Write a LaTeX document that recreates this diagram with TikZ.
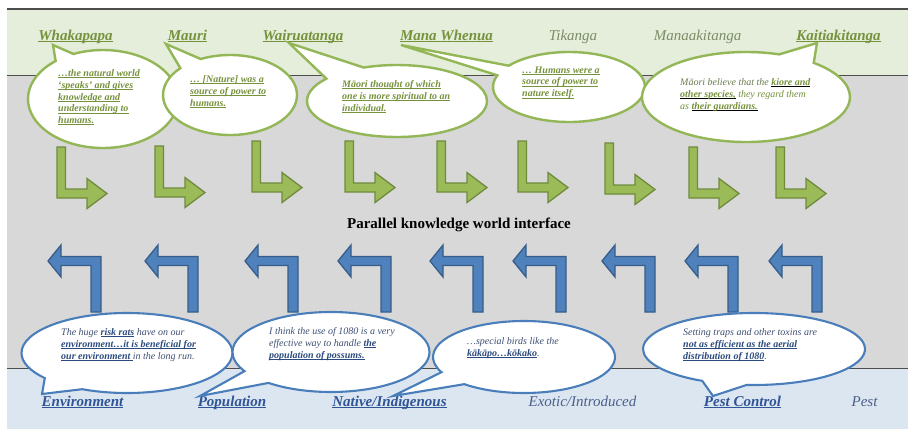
\documentclass[tikz,border=0pt]{standalone}
\usepackage{fontspec}
\setmainfont{Liberation Serif}
\usetikzlibrary{shapes.callouts}

\definecolor{bandGreen}{HTML}{E4EEDA}
\definecolor{bandGray}{HTML}{D8D8D8}
\definecolor{bandBlue}{HTML}{DCE6F1}
\definecolor{ruleGray}{HTML}{4D4D4D}
\definecolor{leafLine}{HTML}{93B657}
\definecolor{leafFill}{HTML}{9BBB59}
\definecolor{leafEdge}{HTML}{6F8A3C}
\definecolor{seaLine}{HTML}{4A7EBB}
\definecolor{seaFill}{HTML}{4F81BD}
\definecolor{seaEdge}{HTML}{385D8A}
\definecolor{leafText}{HTML}{76923C}
\definecolor{leafSoft}{HTML}{7D8B66}
\definecolor{leafPlain}{HTML}{6A7A50}
\definecolor{seaText}{HTML}{2F5597}
\definecolor{seaSoft}{HTML}{4B5F8A}
\definecolor{seaPlain}{HTML}{3E4F73}
\definecolor{seaBold}{HTML}{2B4A7D}

% underline drawn at a fixed depth below the baseline
\newbox\ulxbox
\newcommand\ulx[1]{\setbox\ulxbox=\hbox{#1}\rlap{\rule[-0.16em]{\wd\ulxbox}{0.075em}}\box\ulxbox}
\newcommand\leafbold[1]{\ulx{\color{leafText}\bfseries #1}}
\newcommand\seabold[1]{{\color{seaBold}\ulx{\bfseries #1}}}

\tikzset{
  hdrTopB/.style={anchor=base, inner sep=0pt, text=leafText, font=\fontsize{15}{18}\selectfont\bfseries\itshape},
  hdrTopR/.style={anchor=base, inner sep=0pt, text=leafSoft, font=\fontsize{15}{18}\selectfont\itshape},
  hdrBotB/.style={anchor=base, inner sep=0pt, text=seaText, font=\fontsize{15}{18}\selectfont\bfseries\itshape},
  hdrBotR/.style={anchor=base, inner sep=0pt, text=seaSoft, font=\fontsize{15}{18}\selectfont\itshape},
  leafBubble/.style={ellipse callout, draw=leafLine, line width=2.4pt, fill=white, inner sep=0pt},
  seaBubble/.style={ellipse callout, draw=seaLine, line width=2.1pt, fill=white, inner sep=0pt},
  note/.style={anchor=north west, inner sep=0pt, align=left, font=\fontsize{10}{11.8}\selectfont\itshape},
  leafNote/.style={note, text=leafText, font=\fontsize{10}{11.8}\selectfont\bfseries\itshape},
  leafNoteR/.style={note, text=leafPlain},
  seaNote/.style={note, text=seaPlain},
  leafArrow/.style={fill=leafFill, draw=leafEdge, line width=1.3pt, line join=miter},
  seaArrow/.style={fill=seaFill, draw=seaEdge, line width=1.3pt, line join=miter},
  % bent block arrow: down, then right
  turnDown/.pic={
    \draw[leafArrow] (0,0) -- (8.5,0) -- (8.5,42) -- (30,42) -- (30,31.5) -- (50,46.5)
      -- (30,61.5) -- (30,51) -- (0,51) -- cycle;
  },
  % bent block arrow: up, then left (origin at the tip)
  turnUp/.pic={
    \draw[seaArrow] (0,0) -- (13,-16) -- (13,-4.5) -- (53,-4.5) -- (53,51) -- (43,51)
      -- (43,4.5) -- (13,4.5) -- (13,16) -- cycle;
  },
}

\begin{document}
\begin{tikzpicture}[x=1pt, y=-1pt]
\useasboundingbox (0,0) rectangle (908,429);

% background bands
\fill[bandGreen] (7,9) rectangle (908,75);
\fill[bandGray] (7,75) rectangle (908,368);
\fill[bandBlue] (7,368) rectangle (908,429);
\draw[ruleGray, line width=1.6pt] (7,9) -- (908,9);
\draw[ruleGray, line width=0.9pt] (7,75) -- (908,75);
\draw[ruleGray, line width=0.9pt] (7,368) -- (908,368);

% top concepts
\node[hdrTopB] (whakapapa) at (75.5,40) {\ulx{Whakapapa}};
\node[hdrTopB] (mauri) at (187.5,40) {\ulx{Mauri}};
\node[hdrTopB] (wairuatanga) at (303,40) {\ulx{Wairuatanga}};
\node[hdrTopB] (manawhenua) at (446.5,40) {\ulx{Mana Whenua}};
\node[hdrTopR] (tikanga) at (573,40) {Tikanga};
\node[hdrTopR] (manaaki) at (697.5,40) {Manaakitanga};
\node[hdrTopB] (kaitiaki) at (838.5,40) {\ulx{Kaitiakitanga}};

% bottom concepts
\node[hdrBotB] (environment) at (82.5,406) {\ulx{Environment}};
\node[hdrBotB] (population) at (232,406) {\ulx{Population}};
\node[hdrBotB] (native) at (389.5,406) {\ulx{Native/Indigenous}};
\node[hdrBotR] (exotic) at (582.5,406) {Exotic/Introduced};
\node[hdrBotB] (pestcontrol) at (742.5,406) {\ulx{Pest Control}};
\node[hdrBotR] (pest) at (864.5,406) {Pest};

% green arrows
\pic at (57,147) {turnDown};
\pic at (155,146) {turnDown};
\pic at (252,141) {turnDown};
\pic at (345,141) {turnDown};
\pic at (437,141) {turnDown};
\pic at (518,141) {turnDown};
\pic at (605,143) {turnDown};
\pic at (689,147) {turnDown};
\pic at (776,147) {turnDown};

% blue arrows
\foreach \tx in {48,145,245,338,430,513,602,685,769}
  \pic at (\tx,261) {turnUp};

\node[anchor=base, inner sep=0pt, font=\fontsize{15}{18}\selectfont\bfseries] (iface) at (459,228) {Parallel knowledge world interface};

% pointer tips of the speech bubbles
\coordinate (tWhakapapa) at (53,45);
\coordinate (tMauri) at (166,44);
\coordinate (tWairuatanga) at (289,43);
\coordinate (tManaWhenua) at (401,45);
\coordinate (tKaitiaki) at (817,43);
\coordinate (tEnvironment) at (42,394);
\coordinate (tPopulation) at (200,396);
\coordinate (tNative) at (393,396);
\coordinate (tPestControl) at (713,396);

% green quotations
\node[leafBubble, minimum width=150pt, minimum height=98pt, callout absolute pointer={(tWhakapapa)}, callout pointer arc=16] (qWhakapapa) at (103,99) {};
\node[leafNote] (nWhakapapa) at (58,69.3) {\ulx{…the natural world}\\\ulx{‘speaks’ and gives}\\\ulx{knowledge and}\\\ulx{understanding to}\\\ulx{humans.}};

\node[leafBubble, minimum width=134pt, minimum height=80pt, callout absolute pointer={(tMauri)}, callout pointer arc=22] (qMauri) at (230,95) {};
\node[leafNote] (nMauri) at (190,75.3) {\ulx{… [Nature] was a}\\\ulx{source of power to}\\\ulx{humans.}};

\node[leafBubble, minimum width=180pt, minimum height=72pt, callout absolute pointer={(tWairuatanga)}, callout pointer arc=30] (qWairuatanga) at (397,101) {};
\node[leafNote] (nWairuatanga) at (342,80.3) {\ulx{Māori thought of which}\\\ulx{one is more spiritual to an}\\\ulx{individual.}};

\node[leafBubble, minimum width=152pt, minimum height=70pt, callout absolute pointer={(tManaWhenua)}, callout pointer arc=18] (qManaWhenua) at (569,87) {};
\node[leafNote] (nManaWhenua) at (522,66.3) {\ulx{… Humans were a}\\\ulx{source of power to}\\\ulx{nature itself.}};

\node[leafBubble, minimum width=208pt, minimum height=90pt, callout absolute pointer={(tKaitiaki)}, callout pointer arc=22] (qKaitiaki) at (746,97) {};
\node[leafNoteR] (nKaitiaki) at (680,78.3) {Māori believe that the \leafbold{kiore and}\\\leafbold{other species,} they regard them\\as \leafbold{their guardians.}};

% blue quotations
\node[seaBubble, minimum width=211pt, minimum height=80pt, callout absolute pointer={(tEnvironment)}, callout pointer arc=26] (qEnvironment) at (127,353) {};
\node[seaNote] (nEnvironment) at (61,328.3) {The huge \seabold{risk rats} have on our\\\seabold{environment…it is beneficial for}\\\seabold{our environment }in the long run.};

\node[seaBubble, minimum width=197pt, minimum height=80pt, callout absolute pointer={(tPopulation)}, callout pointer arc=22] (qPopulation) at (331,352) {};
\node[seaNote] (nPopulation) at (269,327.3) {I think the use of 1080 is a very\\effective way to handle \seabold{the}\\\seabold{population of possums.}};

\node[seaBubble, minimum width=182pt, minimum height=72pt, callout absolute pointer={(tNative)}, callout pointer arc=24] (qNative) at (524,357) {};
\node[seaNote] (nNative) at (467,337.3) {…special birds like the\\\seabold{kākāpo…kōkako}.};

\node[seaBubble, minimum width=222pt, minimum height=72pt, callout absolute pointer={(tPestControl)}, callout pointer arc=24] (qPestControl) at (754,349) {};
\node[seaNote] (nPestControl) at (683,328.3) {Setting traps and other toxins are\\\seabold{not as efficient as the aerial}\\\seabold{distribution of 1080}.};
\end{tikzpicture}
\end{document}
